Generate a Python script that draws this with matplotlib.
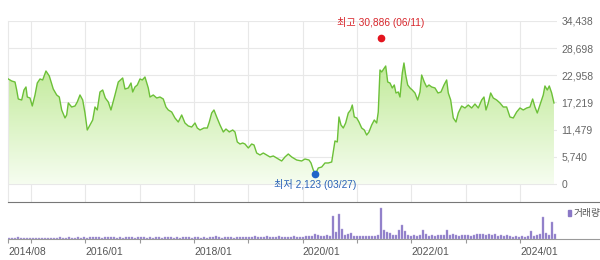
"""stock price chart with volume panel"""

import numpy as np
import matplotlib
matplotlib.use('Agg')
import matplotlib.pyplot as plt
from matplotlib.colors import LinearSegmentedColormap

plt.rcParams['font.family'] = ['Liberation Sans', 'Noto Sans CJK KR']

# price line (decimal year, close)
price_t = [2014.582, 2014.645, 2014.706, 2014.737, 2014.766, 2014.829, 2014.871, 2014.908, 2014.932, 2014.982,
           2015.024, 2015.074, 2015.116, 2015.166, 2015.215, 2015.276, 2015.337, 2015.410, 2015.473, 2015.521,
           2015.565, 2015.626, 2015.657, 2015.687, 2015.749, 2015.810, 2015.852, 2015.902, 2015.952, 2015.994,
           2016.036, 2016.086, 2016.136, 2016.178, 2016.220, 2016.270, 2016.320, 2016.368, 2016.423, 2016.472,
           2016.546, 2016.607, 2016.688, 2016.730, 2016.791, 2016.841, 2016.872, 2016.914, 2016.957, 2017.006,
           2017.049, 2017.098, 2017.159, 2017.190, 2017.251, 2017.314, 2017.374, 2017.435, 2017.485, 2017.527,
           2017.590, 2017.650, 2017.711, 2017.774, 2017.834, 2017.895, 2017.958, 2018.019, 2018.061, 2018.111,
           2018.184, 2018.245, 2018.282, 2018.326, 2018.368, 2018.418, 2018.479, 2018.540, 2018.589, 2018.650,
           2018.713, 2018.755, 2018.797, 2018.847, 2018.897, 2018.939, 2019.000, 2019.062, 2019.105, 2019.154,
           2019.215, 2019.276, 2019.338, 2019.399, 2019.460, 2019.522, 2019.614, 2019.675, 2019.736, 2019.798,
           2019.890, 2019.982, 2020.043, 2020.117, 2020.154, 2020.196, 2020.236, 2020.288, 2020.351, 2020.411,
           2020.472, 2020.535, 2020.564, 2020.595, 2020.638, 2020.669, 2020.706, 2020.748, 2020.792, 2020.840,
           2020.884, 2020.914, 2020.951, 2020.995, 2021.037, 2021.087, 2021.135, 2021.179, 2021.221, 2021.271,
           2021.319, 2021.363, 2021.392, 2021.424, 2021.455, 2021.503, 2021.529, 2021.566, 2021.608, 2021.650,
           2021.687, 2021.718, 2021.761, 2021.792, 2021.834, 2021.865, 2021.897, 2021.934, 2021.976, 2022.018,
           2022.068, 2022.117, 2022.160, 2022.191, 2022.239, 2022.283, 2022.326, 2022.375, 2022.436, 2022.491,
           2022.546, 2022.602, 2022.651, 2022.681, 2022.725, 2022.773, 2022.823, 2022.865, 2022.927, 2022.988,
           2023.049, 2023.111, 2023.172, 2023.233, 2023.296, 2023.338, 2023.375, 2023.417, 2023.461, 2023.509,
           2023.571, 2023.632, 2023.693, 2023.755, 2023.816, 2023.877, 2023.939, 2024.000, 2024.061, 2024.124,
           2024.184, 2024.234, 2024.276, 2024.319, 2024.368, 2024.429, 2024.460, 2024.503, 2024.540, 2024.584,
           2024.626]

price_v = [22190, 21760, 21550, 19860, 17960, 17750, 19860, 20500, 18380, 18170,
           16480, 18810, 21340, 22190, 21980, 23880, 22820, 20070, 18810, 18380,
           15640, 13950, 14580, 17120, 16270, 16480, 17330, 18810, 17750, 15000,
           11410, 12470, 13520, 16270, 15640, 19440, 19860, 18170, 17330, 15640,
           18810, 21550, 22400, 20070, 20290, 21340, 19440, 20500, 20920, 22190,
           21980, 22610, 20290, 18380, 18810, 18170, 18380, 17960, 16270, 15640,
           15210, 13950, 13100, 14580, 12890, 12260, 12040, 12890, 11830, 11410,
           11830, 11830, 13100, 15000, 15640, 14160, 12470, 10990, 11620, 10990,
           11410, 10990, 8880, 8450, 8660, 8450, 7610, 8450, 8240, 6550,
           6130, 6550, 6130, 5710, 5920, 5490, 4860, 5710, 6340, 5710,
           5070, 4860, 5280, 5070, 4440, 2960, 2123, 3380, 3590, 4440,
           4440, 4650, 6760, 9090, 8880, 14160, 12470, 11830, 12890, 15000,
           15640, 16690, 14160, 13950, 13100, 11830, 11410, 10350, 10990, 12470,
           13520, 12890, 15210, 24090, 23670, 24510, 24930, 21550, 21340, 20290,
           20920, 19230, 19440, 18380, 23450, 25570, 23030, 20920, 20290, 19860,
           19230, 17750, 19440, 23030, 21550, 20500, 20920, 20500, 20290, 19230,
           19440, 20920, 21980, 19230, 17750, 13950, 13100, 15000, 16480, 16060,
           16690, 16060, 16900, 16060, 17750, 18380, 15640, 17120, 19230, 18170,
           17750, 17120, 16270, 16270, 14160, 13950, 15210, 16060, 15640, 16060,
           16270, 17960, 16270, 15000, 16690, 18810, 20710, 19860, 20710, 19230,
           17120]

# volume (relative units), one bar every ~20 days from 2014/08
vol = [1, 0.5, 1, 1.5, 1, 0.5, 1, 0.5, 0.5, 1, 1, 0.5, 1, 1, 0.5, 1, 1, 1.5, 1, 1, 1.5, 1, 1, 1.5, 1,
       1.5, 1, 2, 1.5, 2, 1.5, 1, 2, 1.5, 1.5, 2, 1, 1.5, 1, 1.5, 2, 1.5, 1, 1.5, 2,
       1.5, 1, 1.5, 1, 2, 1.5, 1, 1.5, 1.5, 2, 1, 1.5, 1, 2, 1.5, 1.5, 1, 1.5, 2, 1, 1.5, 1, 1.5, 2, 2.5,
       1.5, 1, 1.5, 2, 1.5, 1, 1.5, 2, 1.5, 2, 2,
       2, 2.5, 2, 1.5, 2, 2.5, 2, 1.5, 2, 2.5, 2, 2, 1.5, 2, 2.5, 2, 2,
       2, 2.5, 3, 3, 5, 4, 2.5, 3, 4, 3, 23, 7, 25, 10, 4, 5, 6, 3, 3, 2.5,
       3, 2.5, 3, 3, 2.5, 4, 31, 9, 7, 6, 4, 3.5, 9, 14, 8, 4, 3, 3.5, 3, 4,
       9, 5, 3, 3.5, 3, 4, 3.5, 4, 9, 4, 5, 3.5, 3, 4, 3.5, 4, 3, 3.5, 5, 4.5,
       5, 4, 5, 3.5, 4.5, 3, 4, 3, 3.5, 2.5, 2, 2.5, 2, 2.5, 2, 3, 8, 3, 3.5, 5,
       22, 6, 4, 17, 5]
vol_t = 2014.595 + np.arange(len(vol)) * 0.0552

price_ticks = [0, 5740, 11479, 17219, 22958, 28698, 34438]
year_ticks = [2014.583, 2015, 2016, 2017, 2018, 2019, 2020, 2021, 2022, 2023, 2024]
year_labels = ['2014/08', '', '2016/01', '', '2018/01', '', '2020/01', '', '2022/01', '', '2024/01']

high_t, high_v, high_label = 2021.441, 30886, '최고 30,886 (06/11)'
low_t, low_v, low_label = 2020.235, 2123, '최저 2,123 (03/27)'

x_left = 2014.577
fig = plt.figure(figsize=(6, 2.6), dpi=100)
ax = fig.add_axes([8 / 600, 1 - 201.5 / 260, 549 / 600, 180.5 / 260])
axv = fig.add_axes([8 / 600, 1 - 238.5 / 260, 592 / 600, 37 / 260])

# price panel
poly = ax.fill_between(price_t, price_v, 0, color='none', lw=0)
cmap = LinearSegmentedColormap.from_list('g', ['#f6fdf0', '#aee37a'])
grad = np.linspace(0, 1, 256).reshape(-1, 1)
im = ax.imshow(grad, extent=[x_left, 2024.7, 0, 34438], origin='lower',
               aspect='auto', cmap=cmap, zorder=1)
im.set_clip_path(poly.get_paths()[0], transform=ax.transData)
ax.plot(price_t, price_v, color='#6cc038', lw=1, zorder=3)

ax.plot([high_t], [high_v], 'o', color='#e3141e', ms=4.5, zorder=4)
ax.annotate(high_label, (high_t, high_v), xytext=(0, 7), textcoords='offset points',
            ha='center', va='bottom', fontsize=7.3, color='#d8262c')
ax.plot([low_t], [low_v], 'o', color='#1f63c9', ms=4.5, zorder=4)
ax.annotate(low_label, (low_t, low_v), xytext=(0, -3.5), textcoords='offset points',
            ha='center', va='top', fontsize=7.3, color='#2a62b8')

ax.set_xlim(x_left, 2024.682)
ax.set_ylim(-3698, 34438)
ax.set_yticks(price_ticks)
ax.set_yticklabels([f'{v:,}' for v in price_ticks])
ax.yaxis.tick_right()
ax.tick_params(axis='y', length=0, pad=3, labelsize=7.5, labelcolor='#666666')
ax.set_xticks(year_ticks[1:])
ax.tick_params(axis='x', length=0, labelbottom=False)
ax.grid(True, color='#e8e8e8', lw=0.8)
ax.set_axisbelow(True)
for s in ['top', 'right', 'bottom']:
    ax.spines[s].set_visible(False)
ax.spines['left'].set_color('#e8e8e8')

# volume panel
axv.bar(vol_t, vol, width=0.03, color='#8a78c6', edgecolor='#b3a6dc', lw=0.3)
axv.set_xlim(x_left, 2025.473)
axv.set_ylim(0, 37)
axv.set_yticks([])
axv.set_xticks(year_ticks)
axv.set_xticklabels(year_labels, ha='left')
axv.tick_params(axis='x', length=3, color='#999999', pad=3, labelsize=7.5, labelcolor='#555555')
axv.spines['top'].set_color('#777777')
axv.spines['bottom'].set_color('#9a9a9a')
axv.spines['left'].set_visible(False)
axv.spines['right'].set_visible(False)
axv.patch.set_alpha(0)

fig.patches.append(plt.Rectangle((568 / 600, 1 - 216 / 260), 3 / 600, 6 / 260,
                                 transform=fig.transFigure, color='#8a78c6'))
fig.text(574 / 600, 1 - 213 / 260, '거래량', fontsize=7, color='#555555', va='center')

plt.savefig('out.png', dpi=100)
